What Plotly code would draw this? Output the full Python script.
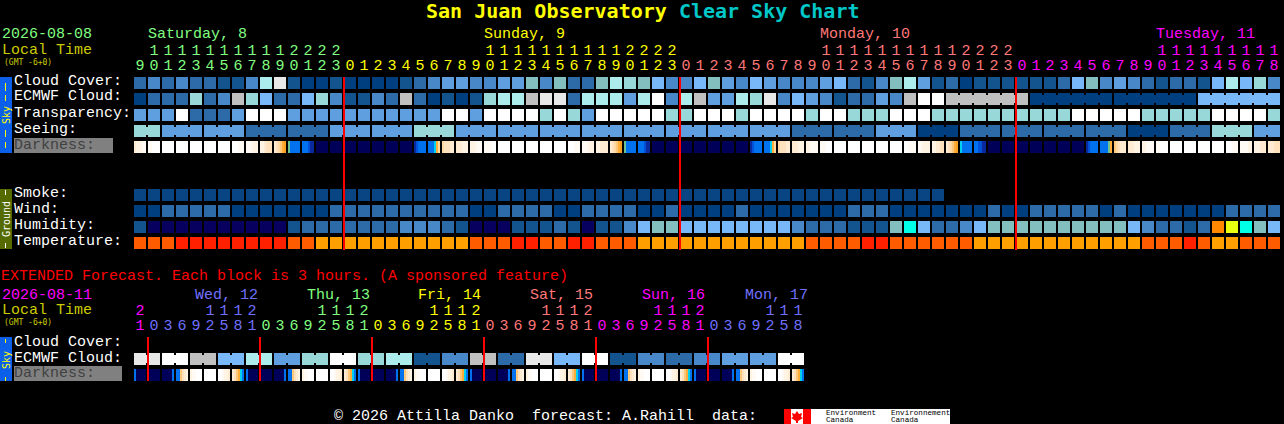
import plotly.graph_objects as go

W, H = 1284, 424
FONT = "Liberation Mono"
TITLE_FONT = "DejaVu Sans Mono"

PALETTE = {
    "a": "#003f7f", "b": "#13548f", "c": "#2c6aa8", "d": "#4888c8", "e": "#5f9fe0", "f": "#78b8f8",
    "g": "#84bfbf", "h": "#98d8d8", "i": "#acecec", "j": "#c0c0c0", "k": "#e8e8e8", "l": "#ffffff",
    "s": "#0a4583", "n": "#08005f", "y": "#00ffe6", "Y": "#e8ff10", "P": "#ff8800",
    "O": "#ff5c00", "R": "#ff2000", "A": "#ffa000",
    "W": "#ffffff", "1": "#fffaf3", "2": "#fff3e4", "3": "#ffebd2", "4": "#ffe2bd", "5": "#ffd8a4",
    "6": "#ffc77a", "7": "#ffad3a", "8": "#f9a020", "T": "#70c090", "C": "#00d0f0",
    "B": "#0072f0", "M": "#0050d8", "D": "#0a2aa0", "N": "#000058",
}

cloud_cover = list("cdcdccbbdikbaabaaaabc" "deeddeegdgccgihgfd" "dfgedfedddefc" "bdgiebcabbbbbbcfgdedcbccbfifhd")
ecmwf_cloud = list("accchcdjhfccfhdbbdcjc" "ababhiijkkciiieild" "ijeeihkdfedbc" "cedjll"
                   "jjjjjj" "aaaaaa" "aaaaaa" "ffffff")
ecmwf_blocks = [(58, 6), (64, 6), (70, 6), (76, 6)]
transparency = list("eeelccce" "lll" "eeeeeeeeee" "elle" "llll" "hlhe" "lllll" "h" "hlllhllllhllh"
                    "hh" "lll" "hhhhhhhhhh" "lllll" "hhhhh" "llll" "h")
seeing_blocks = [("h", 2), ("e", 3), ("e", 3), ("c", 3), ("c", 3), ("e", 3), ("e", 3), ("h", 3),
                 ("e", 3), ("e", 3), ("e", 3), ("e", 3), ("e", 3), ("e", 3), ("e", 3), ("e", 3),
                 ("c", 3), ("c", 3), ("e", 3), ("a", 3), ("c", 3), ("c", 3), ("c", 3), ("c", 3),
                 ("a", 3), ("c", 3), ("h", 3), ("e", 2)]
darkness = (["322211", "11WWWW"] + ["WWWWWW"] * 5 + ["WWW111", "111222", "223444", "345678", "TBBBBB", "BBBMDD"]
            + ["NNNNNN"] * 7 + ["DMBBBB", "BBBC75", "544433", "333222", "222111", "1111WW"] + ["WWWWWW"] * 5
            + ["WWW111", "111222", "223333", "345678", "TBBBBB", "BBBMDD"] + ["NNNNNN"] * 7
            + ["DMBBBB", "BBBC75", "544433", "333222", "221111", "111WWW"] + ["WWWWWW"] * 5
            + ["WW1111", "112222", "223344", "345678", "CBBBBB", "BBMMDD"] + ["NNNNNN"] * 7
            + ["DMBBBB", "BBBBT7", "654333", "333222", "221111", "11WWWW"] + ["WWWWWW"] * 4
            + ["WWW111", "111122", "222333", "333444"])
smoke = ["s"] * 58
wind = list("aaccccc" "aaaaaaa" "ccccccc" "ccc" "aa" "cccc" "aa" "cccc" "aa" "c" "aaaa" "c" "aaaaaaa" "c"
            "cc" "aaaaaaa" "c" "aa" "ccccc" "a" "c" "aaaaaaa" "cccc")
humidity = list("b" "nnnnnnnnnn" "b" "ccccccc" "dd" "dcb" "nnn" "bbb" "cb" "n" "bb" "d" "f" "gg" "ffffffff" "d" "ccc" "b"
                "bb" "g" "y" "f" "cc" "d" "f" "gggggggggg" "f" "d" "cc" "b" "c" "P" "Y" "y" "g" "f")
temperature = list("OOO" "RRRRRRRR" "OO" "AAAAAAAA" "AAA" "OOO" "RR" "OO" "RR" "OOO" "AAAAAAAAAAAA" "OOOO"
                   "RR" "OOOOOO" "AAAAAAAAAAAA" "OOO" "R" "O" "AA" "OOO")

ext_ecmwf = ["k", "l", "j", "f", "i", "e", "h", "l", "h", "i", "b", "d",
             "j", "c", "k", "f", "l", "b", "d", "c", "d", "e", "e", "l"]
ext_darkness = (["BNNNNN"]
                + ["NNNNNN", "NNNNNB", "BB6432", "211WWW", "WWWWWW", "WW1223", "3467CB", "BNNNNN"] * 5
                + ["NNNNNN", "NNNNNB", "BB6432", "211WWW", "WWWWWW", "WW1223", "3467CB"])

main_hours = [(9 + i) % 24 for i in range(82)]
main_days = [("Saturday, 8", "#80ff80", 147, 15), ("Sunday, 9", "#ffff00", 483, 24),
             ("Monday, 10", "#ff7878", 819, 24), ("Tuesday, 11", "#ff00ff", 1155, 19)]
ext_hours = [21] + [0, 3, 6, 9, 12, 15, 18, 21] * 5 + [0, 3, 6, 9, 12, 15, 18]
ext_days = [("Wed, 12", "#7070ff", 194, 8), ("Thu, 13", "#80ff80", 306, 8), ("Fri, 14", "#ffff00", 417, 8),
            ("Sat, 15", "#ff7878", 529, 8), ("Sun, 16", "#ff00ff", 641, 8), ("Mon, 17", "#7070ff", 744, 7)]
main_midnights = [15, 39, 63]
ext_midnights = [0, 8, 16, 24, 32, 40]

codes = list(PALETTE)
n = len(codes)
scale = []
for k, c in enumerate(codes):
    scale += [[k / n, PALETTE[c]], [(k + 1) / n, PALETTE[c]]]


def idx(c):
    return None if c is None else codes.index(c) + 0.5


def py(p):
    return (p - 83) / 16


def px(p):
    return (p - 140) / 14


def pad(row, m):
    return list(row) + [None] * (m - len(row))


def fine(strings):
    out = []
    for s in strings:
        out += list(s) + [None]
    return out


def hm(z, y0, x0=0, dx=1, xgap=0, ygap=4):
    return go.Heatmap(z=[[idx(c) for c in r] for r in z], x0=x0, dx=dx, y0=y0, dy=1, xgap=xgap, ygap=ygap,
                      colorscale=scale, zmin=0, zmax=n, showscale=False, hoverinfo="skip", zsmooth=False)


seeing = []
for v, m in seeing_blocks:
    seeing += [v] * m

fig = go.Figure()
blank = [None] * 82
fig.add_trace(hm([pad(cloud_cover, 82), pad(ecmwf_cloud, 82), pad(transparency, 82), pad(seeing, 82), blank,
                  blank, blank,
                  pad(smoke, 82), pad(wind, 82), pad(humidity, 82), pad(temperature, 82)], 0, xgap=2))
FINE0, FINEDX = -5 / 14, 1 / 7
fig.add_trace(hm([fine(darkness)], 4, x0=FINE0, dx=FINEDX))
fig.add_trace(hm([fine(ext_darkness)], py(375), x0=FINE0, dx=FINEDX))
ext_cells = []
for v in ext_ecmwf:
    ext_cells += [v, v]
fig.add_trace(hm([ext_cells], py(359), xgap=2))


def joints(blocks, total):
    row = [None] * (7 * total)
    for start, m, v in blocks:
        for c in range(start, start + m - 1):
            row[7 * c + 6] = v
    return row


seeing_j = []
c0 = 0
for v, m in seeing_blocks:
    seeing_j.append((c0, m, v))
    c0 += m
ecmwf_j = [(s, m, ecmwf_cloud[s]) for s, m in ecmwf_blocks]
ext_j = [(2 * k, 2, v) for k, v in enumerate(ext_ecmwf)]
fig.add_trace(hm([joints(seeing_j, 82)], 3, x0=FINE0, dx=FINEDX, ygap=8))
fig.add_trace(hm([joints(ecmwf_j, 82)], 1, x0=FINE0, dx=FINEDX, ygap=8))
fig.add_trace(hm([joints(ext_j, 48)], py(359), x0=FINE0, dx=FINEDX, ygap=8))

lx, ly = [], []
for m in main_midnights:
    x = m - 0.5 + 1 / 14
    lx += [x, x, None]
    ly += [py(77), py(250), None]
for m in ext_midnights:
    x = m + 8 / 14
    lx += [x, x, None]
    ly += [py(337), py(381), None]
fig.add_trace(go.Scatter(x=lx, y=ly, mode="lines", line=dict(color="#ff0000", width=2), hoverinfo="skip"))


def hour_colours(days, first=None):
    cols = [first] if first else []
    for _, col, _, m in days:
        cols += [col] * m
    return cols


for hours, cols, ytens, yunits in [
    (main_hours, hour_colours(main_days), 51, 66),
    (ext_hours, hour_colours(ext_days, "#ff00ff"), 311, 326),
]:
    xs = list(range(len(hours)))
    fig.add_trace(go.Scatter(x=xs, y=[py(yunits)] * len(xs), mode="text", text=[str(h % 10) for h in hours],
                             textfont=dict(family=FONT, size=15, color=cols), textposition="middle center",
                             hoverinfo="skip"))
    t = [k for k, h in enumerate(hours) if h >= 10]
    fig.add_trace(go.Scatter(x=t, y=[py(ytens)] * len(t), mode="text", text=[str(hours[k] // 10) for k in t],
                             textfont=dict(family=FONT, size=15, color=[cols[k] for k in t]),
                             textposition="middle center", hoverinfo="skip"))

ann = []


def label(text, x, y, color="#ffffff", size=15, anchor="left", rot=0, family=FONT):
    ann.append(dict(text=text, x=x / W, y=1 - y / H, xref="paper", yref="paper", showarrow=False, xanchor=anchor,
                    yanchor="middle", borderpad=0, textangle=rot, font=dict(family=family, size=size, color=color)))


label('<b>San Juan Observatory <span style="color:#00c8c8">Clear Sky Chart</span></b>', 425, 11, "#ffff00", 20,
      family=TITLE_FONT)
for text, col, x, _ in main_days:
    label(text, x, 35, col)
for text, col, x, _ in ext_days:
    label(text, x, 295, col)
label("2026-08-08", 1, 35, "#80ff80")
label("Local Time", 1, 50, "#cccc00")
label("(GMT -6+0)", 3, 62, "#cccc00", 8, family=TITLE_FONT)
label("EXTENDED Forecast. Each block is 3 hours. (A sponsored feature)", 0, 276, "#ff0000")
label("2026-08-11", 1, 295, "#ff00ff")
label("Local Time", 1, 310, "#cccc00")
label("(GMT -6+0)", 3, 322, "#cccc00", 8, family=TITLE_FONT)
for text, y in [("Cloud Cover:", 81), ("ECMWF Cloud:", 97), ("Transparency:", 113), ("Seeing:", 129),
                ("Smoke:", 193), ("Wind:", 209), ("Humidity:", 225), ("Temperature:", 241),
                ("Cloud Cover:", 342), ("ECMWF Cloud:", 358)]:
    label(text, 13, y)
label("Darkness:", 13, 145, "#404040")
label("Darkness:", 13, 373, "#404040")
label("Sky", 6, 115, "#ffff00", 10, "center", -90, TITLE_FONT)
label("Ground", 6, 219, "#ffffff", 10, "center", -90, TITLE_FONT)
label("Sky", 6, 360, "#ffff00", 10, "center", -90, TITLE_FONT)
label("© 2026 Attilla Danko\u00a0\u00a0forecast: A.Rahill\u00a0\u00a0data:", 333, 416)
label("Environment", 825, 413, "#000000", 7.6)
label("Canada", 825, 420, "#000000", 7.6)
label("Environnement", 890, 413, "#000000", 7.6)
label("Canada", 890, 420, "#000000", 7.6)


def rect(x0, y0, x1, y1, color, layer="below"):
    return dict(type="rect", xref="paper", yref="paper", x0=x0 / W, x1=x1 / W, y0=1 - y0 / H, y1=1 - y1 / H,
                fillcolor=color, line_width=0, layer=layer)


shapes = [rect(14, 138, 113, 153, "#808080"), rect(14, 366, 122, 381, "#808080"),
          rect(0, 77, 12, 153, "#0b5fe8"), rect(0, 337, 12, 381, "#0b5fe8"), rect(0, 189, 12, 249, "#556b00"),
          rect(784, 409, 950, 424, "#ffffff"), rect(784, 409, 791, 424, "#ff0000"),
          rect(803, 409, 811, 424, "#ff0000")]
for y0, y1 in [(83, 91), (95, 101), (130, 137), (142, 148), (339, 343), (377, 381)]:
    shapes.append(rect(5, y0, 6, y1, "#ffff00", "above"))
for y0, y1 in [(190, 195), (243, 248)]:
    shapes.append(rect(5, y0, 6, y1, "#ffffff", "above"))
leaf = [(797, 411), (799, 414), (802, 413), (801, 417), (803, 418), (798, 421), (798, 423), (796, 423), (796, 421),
        (791, 418), (793, 417), (792, 413), (795, 414)]
path = "M " + " L ".join(f"{x / W:.5f},{1 - y / H:.5f}" for x, y in leaf) + " Z"
shapes.append(dict(type="path", path=path, xref="paper", yref="paper", fillcolor="#ff0000", line_width=0))

fig.update_layout(width=W, height=H, margin=dict(l=0, r=0, t=0, b=0), paper_bgcolor="#000000",
                  plot_bgcolor="rgba(0,0,0,0)", showlegend=False, annotations=ann, shapes=shapes,
                  xaxis=dict(range=[px(0), px(W)], visible=False, fixedrange=True),
                  yaxis=dict(range=[py(H), py(0)], visible=False, fixedrange=True))

fig.write_html("out.html", config=dict(displayModeBar=False),
               post_script="document.body.style.margin='0';document.body.style.background='#000';")
